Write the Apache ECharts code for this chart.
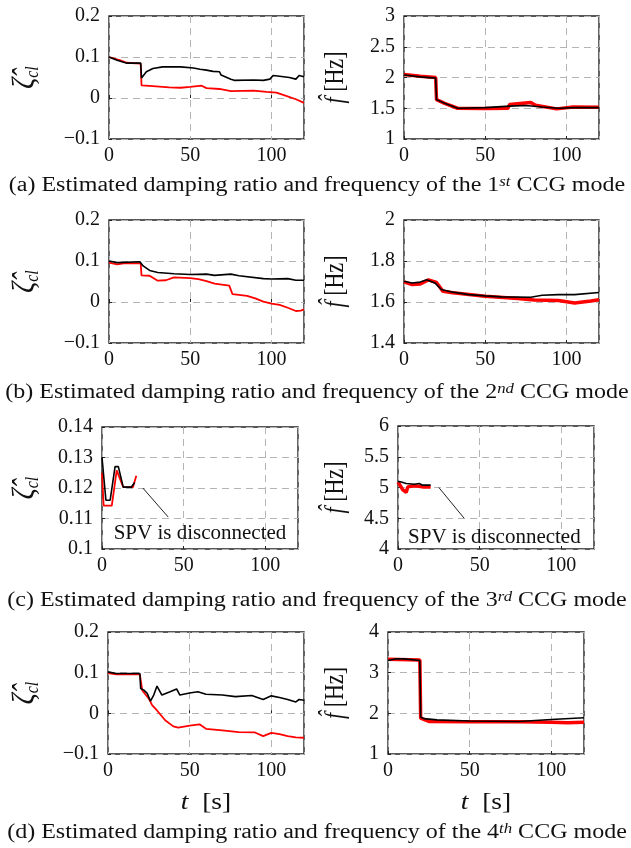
<!DOCTYPE html>
<html><head><meta charset="utf-8">
<script src="https://cdn.jsdelivr.net/npm/echarts@6/dist/echarts.min.js"></script>
<style>html,body{margin:0;padding:0;background:#fff}#c{width:631px;height:848px}</style>
</head><body><div id="c"></div>
<script>
// ---------- data ----------
// (a) 1st CCG mode
var aZetaBlackT = [0,5,11,19.5,20,23,27,33,44,52,56,60,64,68,69,75,77,89,95,99,101,105,111,115,117,120];
var aZetaBlackV = [0.100,0.092,0.085,0.085,0.049,0.064,0.072,0.076,0.076,0.073,0.070,0.068,0.065,0.064,0.056,0.046,0.043,0.044,0.043,0.046,0.055,0.053,0.050,0.046,0.055,0.052];
var aZetaRedT = [0,7,11,19.5,20,27,37,44,50,57,60,68,75,89,97,103,109,115,120];
var aZetaRedV = [0.100,0.092,0.086,0.084,0.031,0.029,0.026,0.025,0.027,0.030,0.024,0.022,0.017,0.018,0.015,0.013,0.005,-0.003,-0.012];
var aFreqBlackT = [0,10,19.5,20,25,33,50,65,75,85,95,105,120];
var aFreqBlackV = [2.04,2.01,1.99,1.64,1.58,1.50,1.51,1.535,1.545,1.52,1.50,1.51,1.51];
var aFreqRedT = [0,10,19.5,20,25,33,50,64,65,78,81,94,104,120];
var aFreqRedV = [2.05,2.02,2.0,1.64,1.58,1.50,1.495,1.50,1.56,1.595,1.55,1.49,1.52,1.515];
// (b) 2nd CCG mode
var bZetaBlackT = [0,5,19,21,25,30,40,50,60,65,75,80,95,100,110,115,120];
var bZetaBlackV = [0.100,0.096,0.098,0.088,0.077,0.072,0.069,0.067,0.068,0.065,0.068,0.064,0.057,0.056,0.057,0.053,0.053];
var bZetaRedT = [0,5,10,19.5,20,25,30,35,40,50,55,60,65,74,76,85,90,95,100,105,110,115,118,120];
var bZetaRedV = [0.096,0.092,0.095,0.094,0.065,0.064,0.052,0.053,0.060,0.058,0.056,0.051,0.045,0.040,0.019,0.015,0.009,0.001,-0.004,-0.007,-0.014,-0.022,-0.021,-0.018];
var bFreqBlackT = [0,5,10,14,19,23,30,40,50,60,78,85,95,105,120];
var bFreqBlackV = [1.701,1.693,1.697,1.708,1.693,1.661,1.648,1.636,1.630,1.625,1.623,1.633,1.636,1.636,1.646];
var bFreqRedT = [0,5,10,15,20,24,30,50,70,80,95,105,115,120];
var bFreqRedV = [1.698,1.685,1.688,1.708,1.695,1.652,1.645,1.628,1.617,1.610,1.607,1.595,1.605,1.611];
// (c) 3rd CCG mode
var cZetaBlackT = [0,2.4,5,8,10,13,18,20];
var cZetaBlackV = [0.130,0.116,0.116,0.127,0.127,0.1203,0.1203,0.1218];
var cZetaRedT = [0,1,6,9,10,13,19,21];
var cZetaRedV = [0.125,0.1142,0.1142,0.1258,0.1255,0.1203,0.1203,0.124];
var cFreqBlackT = [0,2,5,10,13,15,20];
var cFreqBlackV = [5.10,5.09,5.065,5.054,5.065,5.038,5.038];
var cFreqRedT = [0,3,5,6,10,15,20];
var cFreqRedV = [5.09,4.96,4.92,5.01,5.027,5.01,5.01];
// (d) 4th CCG mode
var dZetaBlackT = [0,5,19.5,20,22,24,26,28,30,33,38,42,44,50,55,60,70,78,88,95,100,105,110,115,117,120];
var dZetaBlackV = [0.102,0.098,0.098,0.061,0.057,0.049,0.030,0.045,0.067,0.045,0.053,0.060,0.045,0.050,0.053,0.047,0.045,0.041,0.044,0.034,0.043,0.039,0.034,0.028,0.034,0.032];
var dZetaRedT = [0,5,19.5,21,25,27,30,35,40,43,50,56,60,70,80,90,95,100,105,110,115,120];
var dZetaRedV = [0.099,0.096,0.096,0.056,0.036,0.020,0.007,-0.017,-0.032,-0.035,-0.030,-0.027,-0.038,-0.042,-0.046,-0.047,-0.056,-0.048,-0.051,-0.056,-0.059,-0.060];
var dFreqBlackT = [0,5,10,19.5,20,22,30,50,80,100,120];
var dFreqBlackV = [3.30,3.34,3.34,3.30,1.91,1.87,1.84,1.81,1.80,1.85,1.89];
var dFreqRedT = [0,19.5,20,25,50,80,100,110,120];
var dFreqRedV = [3.33,3.31,1.88,1.80,1.79,1.79,1.78,1.77,1.78];

// axis ranges [min, max, interval]
var zetaRange = [-0.1, 0.2, 0.1];
var aFreqRange = [1, 3, 0.5];
var bFreqRange = [1.4, 2, 0.2];
var cZetaRange = [0.1, 0.14, 0.01];
var cFreqRange = [4, 6, 0.5];
var dFreqRange = [1, 4, 1];
var timeRange = [0, 120, 50];

var captionTexts = [
  ['(a) Estimated damping ratio and frequency of the 1', 'st', ' CCG mode'],
  ['(b) Estimated damping ratio and frequency of the 2', 'nd', ' CCG mode'],
  ['(c) Estimated damping ratio and frequency of the 3', 'rd', ' CCG mode'],
  ['(d) Estimated damping ratio and frequency of the 4', 'th', ' CCG mode']
];
var annotationText = 'SPV is disconnected';

// ---------- layout ----------
var FONT = '"Liberation Serif", "Times New Roman", serif';
var SX = 1.2; // horizontal stretch seen in the reference text
var panels = [
  {g:[109,16,195,123], y:zetaRange, k:'zeta', bt:aZetaBlackT, bv:aZetaBlackV, rt:aZetaRedT, rv:aZetaRedV},
  {g:[404,16,195,123], y:aFreqRange, k:'freq', bt:aFreqBlackT, bv:aFreqBlackV, rt:aFreqRedT, rv:aFreqRedV},
  {g:[109,220,195,123], y:zetaRange, k:'zeta', bt:bZetaBlackT, bv:bZetaBlackV, rt:bZetaRedT, rv:bZetaRedV},
  {g:[404,220,195,123], y:bFreqRange, k:'freq', bt:bFreqBlackT, bv:bFreqBlackV, rt:bFreqRedT, rv:bFreqRedV},
  {g:[102,427,196,122], y:cZetaRange, k:'zeta', bt:cZetaBlackT, bv:cZetaBlackV, rt:cZetaRedT, rv:cZetaRedV, ann:{arrow:[[25,0.12],[40.5,0.1105]], text:[60,0.105]}},
  {g:[398,426,196,123], y:cFreqRange, k:'freq', bt:cFreqBlackT, bv:cFreqBlackV, rt:cFreqRedT, rv:cFreqRedV, ann:{arrow:[[25,5.0],[40.5,4.5]], text:[59,4.18]}},
  {g:[108,632,196,122], y:zetaRange, k:'zeta', bt:dZetaBlackT, bv:dZetaBlackV, rt:dZetaRedT, rv:dZetaRedV},
  {g:[388,632,196,122], y:dFreqRange, k:'freq', bt:dFreqBlackT, bv:dFreqBlackV, rt:dFreqRedT, rv:dFreqRedV}
];

function pairs(t, v) { return t.map(function (x, i) { return [x, v[i]]; }); }
function fmt(v) {
  var n = Number(v.toFixed(3));
  return n < 0 ? '\u2212' + Math.abs(n) : String(n);
}

var grids = [], xAxes = [], yAxes = [], series = [], graphics = [];
panels.forEach(function (p, i) {
  grids.push({left:p.g[0], top:p.g[1], width:p.g[2], height:p.g[3], show:true, borderColor:'#222', borderWidth:1.4, containLabel:false});
  xAxes.push({type:'value', gridIndex:i, min:timeRange[0], max:timeRange[1], interval:timeRange[2],
    axisLine:{show:false}, axisTick:{show:true, inside:true, length:3, lineStyle:{color:'#222'}},
    splitLine:{show:true, lineStyle:{color:'#b4b4b4', type:[7,5], width:1}},
    axisLabel:{fontFamily:FONT, fontSize:20, color:'#111', margin:7, showMaxLabel:false}});
  yAxes.push({type:'value', gridIndex:i, min:p.y[0], max:p.y[1], interval:p.y[2],
    axisLine:{show:false}, axisTick:{show:true, inside:true, length:3, lineStyle:{color:'#222'}},
    splitLine:{show:true, lineStyle:{color:'#b4b4b4', type:[7,5], width:1}},
    axisLabel:{fontFamily:FONT, fontSize:20, color:'#111', margin:9, formatter:fmt}});
  var thickRed = p.k === 'freq';
  var red = {type:'line', xAxisIndex:i, yAxisIndex:i, data:pairs(p.rt, p.rv), symbol:'none', silent:true,
    lineStyle:{color:'#ff0000', width: thickRed ? 3.5 : 1.8}, z:2};
  var black = {type:'line', xAxisIndex:i, yAxisIndex:i, data:pairs(p.bt, p.bv), symbol:'none', silent:true,
    lineStyle:{color:'#000', width:1.6}, z:3};
  if (p.ann) {
    black.markLine = {silent:true, symbol:['none','arrow'], symbolSize:[0,8], label:{show:false},
      lineStyle:{color:'#222', width:1, type:'solid'},
      data:[[{coord:p.ann.arrow[0]}, {coord:p.ann.arrow[1]}]]};
    black.markPoint = {silent:true, symbol:'circle', symbolSize:0,
      label:{show:true, position:'inside', formatter:annotationText, fontFamily:FONT, fontSize:21, color:'#111'},
      data:[{coord:p.ann.text}]};
  }
  series.push(red, black);

  // y axis name (rotated), fixed column positions as in the reference
  var cy = p.g[1] + p.g[3] / 2;
  if (p.k === 'zeta') {
    graphics.push({type:'text', x:25, y:cy, rotation:Math.PI/2, scaleY:SX,
      style:{text:'{m|\u03B6\u0302}{s|cl}', align:'center', verticalAlign:'middle',
        rich:{m:{fontFamily:FONT, fontStyle:'italic', fontSize:27, lineHeight:30, fill:'#111'},
              s:{fontFamily:FONT, fontStyle:'italic', fontSize:16, lineHeight:14, verticalAlign:'bottom', fill:'#111'}}}});
  } else {
    graphics.push({type:'text', x:336, y:cy, rotation:Math.PI/2, scaleY:SX,
      style:{text:'{m|f\u0302}{n| [Hz]}', align:'center', verticalAlign:'middle',
        rich:{m:{fontFamily:FONT, fontStyle:'italic', fontSize:22, fill:'#111'},
              n:{fontFamily:FONT, fontSize:22, fill:'#111'}}}});
  }
});

// t [s] labels
[[206,803],[486,803]].forEach(function (c) {
  graphics.push({type:'text', x:c[0], y:c[1], scaleX:SX,
    style:{text:'{m|t}{n|  [s]}', align:'center', verticalAlign:'middle',
      rich:{m:{fontFamily:FONT, fontStyle:'italic', fontSize:23, fill:'#111'},
            n:{fontFamily:FONT, fontSize:23, fill:'#111'}}}});
});

// captions
var capY = [186, 393, 601, 833];
captionTexts.forEach(function (c, i) {
  graphics.push({type:'text', x:317, y:capY[i], scaleX:SX,
    style:{text:'{m|' + c[0] + '}{s|' + c[1] + '}{m|' + c[2] + '}', align:'center', verticalAlign:'middle',
      rich:{m:{fontFamily:FONT, fontSize:20, lineHeight:22, fill:'#111'},
            s:{fontFamily:FONT, fontStyle:'italic', fontSize:14, lineHeight:22, verticalAlign:'top', padding:[0,0,8,0], fill:'#111'}}}});
});

var chart = echarts.init(document.getElementById('c'), null, {renderer:'canvas'});
chart.setOption({animation:false, backgroundColor:'#fff', grid:grids, xAxis:xAxes, yAxis:yAxes, series:series, graphic:graphics});
</script></body></html>
